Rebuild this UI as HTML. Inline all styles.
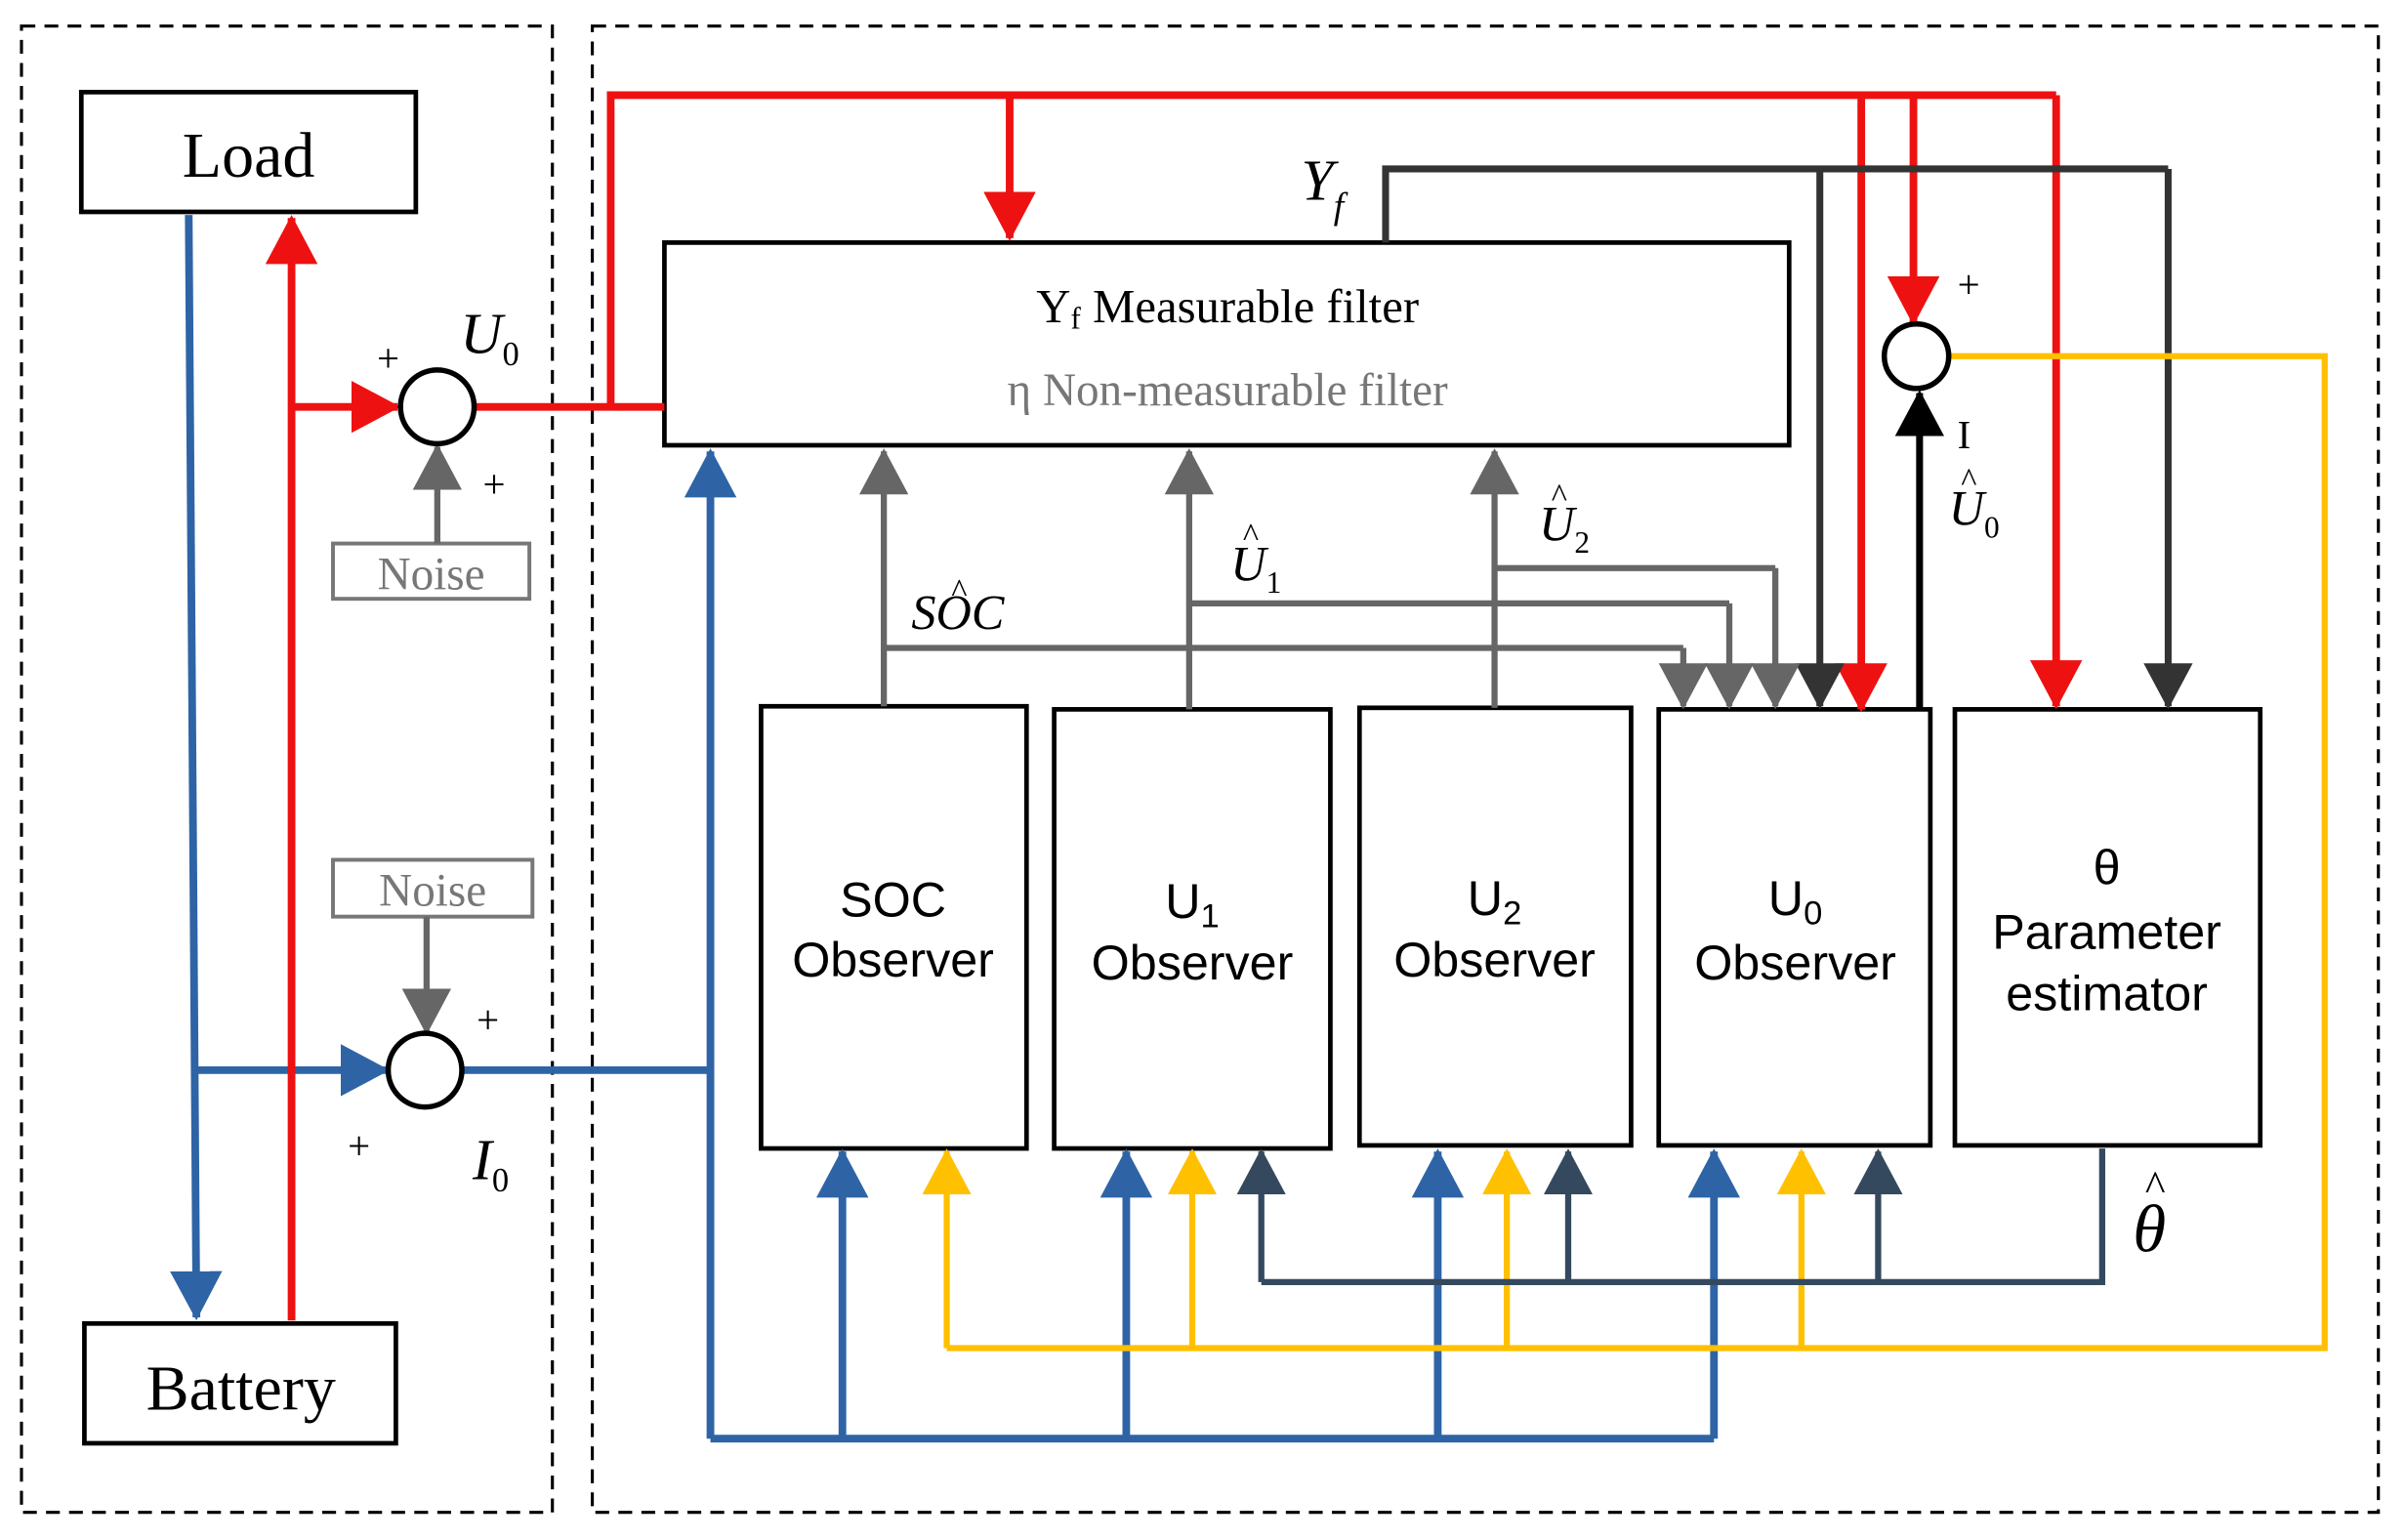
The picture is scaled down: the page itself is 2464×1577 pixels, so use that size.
<!DOCTYPE html>
<html><head><meta charset="utf-8"><style>
html,body{margin:0;padding:0;background:#fff}
svg{display:block}
text{font-family:"Liberation Serif",serif}
.s{font-family:"Liberation Sans",sans-serif}
</style></head><body>
<svg width="2464" height="1577" viewBox="0 0 1568 1003" preserveAspectRatio="none" xmlns="http://www.w3.org/2000/svg">
<defs>
<marker id="ar" markerUnits="userSpaceOnUse" markerWidth="34" markerHeight="34" refX="30" refY="17" orient="auto"><path d="M0,0 L32,17 L0,34 z" fill="#ee1111"/></marker>
<marker id="ab" markerUnits="userSpaceOnUse" markerWidth="34" markerHeight="34" refX="30" refY="17" orient="auto"><path d="M0,0 L32,17 L0,34 z" fill="#2e64a6"/></marker>
<marker id="ag" markerUnits="userSpaceOnUse" markerWidth="32" markerHeight="32" refX="28" refY="16" orient="auto"><path d="M0,0 L30,16 L0,32 z" fill="#666"/></marker>
<marker id="ak" markerUnits="userSpaceOnUse" markerWidth="32" markerHeight="32" refX="28" refY="16" orient="auto"><path d="M0,0 L30,16 L0,32 z" fill="#333"/></marker>
<marker id="ak2" markerUnits="userSpaceOnUse" markerWidth="32" markerHeight="32" refX="28" refY="16" orient="auto"><path d="M0,0 L30,16 L0,32 z" fill="#000"/></marker>
<marker id="ay" markerUnits="userSpaceOnUse" markerWidth="32" markerHeight="32" refX="28" refY="16" orient="auto"><path d="M0,0 L30,16 L0,32 z" fill="#ffc000"/></marker>
<marker id="ad" markerUnits="userSpaceOnUse" markerWidth="32" markerHeight="32" refX="28" refY="16" orient="auto"><path d="M0,0 L30,16 L0,32 z" fill="#34495e"/></marker>
</defs>
<g fill="none" stroke="#000" stroke-width="2" stroke-dasharray="9,6">
<rect x="14" y="17" width="346" height="968"/>
<rect x="386" y="17" width="1164" height="968"/>
</g>
<g fill="#fff" stroke="#000" stroke-width="3">
<rect x="53" y="60" width="218" height="78"/>
<rect x="55" y="862" width="203" height="78"/>
<rect x="433" y="158" width="733" height="132"/>
<rect x="496" y="460" width="173" height="288"/>
<rect x="687" y="462" width="180" height="286"/>
<rect x="886" y="461" width="177" height="285"/>
<rect x="1081" y="462" width="177" height="284"/>
<rect x="1274" y="462" width="199" height="284"/>
</g>
<g fill="#fff" stroke="#777" stroke-width="2.5">
<rect x="217" y="354" width="128" height="36"/>
<rect x="217" y="560" width="130" height="37"/>
</g>
<g fill="none" stroke="#2e64a6" stroke-width="5">
<line x1="123" y1="140" x2="128" y2="858" marker-end="url(#ab)"/>
<line x1="128" y1="697" x2="252" y2="697" marker-end="url(#ab)"/>
<polyline points="301,697 463,697"/>
<line x1="463" y1="937" x2="463" y2="294" marker-end="url(#ab)"/>
<polyline points="463,937 1117,937"/>
<line x1="549" y1="937" x2="549" y2="750" marker-end="url(#ab)"/>
<line x1="734" y1="937" x2="734" y2="750" marker-end="url(#ab)"/>
<line x1="937" y1="937" x2="937" y2="750" marker-end="url(#ab)"/>
<line x1="1117" y1="937" x2="1117" y2="750" marker-end="url(#ab)"/>
</g>
<g fill="none" stroke="#ee1111" stroke-width="5">
<line x1="190" y1="860" x2="190" y2="142" marker-end="url(#ar)"/>
<line x1="190" y1="265" x2="259" y2="265" marker-end="url(#ar)"/>
<polyline points="309,265 433,265"/>
<polyline points="398,265 398,62 1340,62"/>
<line x1="658" y1="62" x2="658" y2="155" marker-end="url(#ar)"/>
<line x1="1213" y1="62" x2="1213" y2="462" marker-end="url(#ar)"/>
<line x1="1247" y1="62" x2="1247" y2="210" marker-end="url(#ar)"/>
<line x1="1340" y1="62" x2="1340" y2="460" marker-end="url(#ar)"/>
</g>
<g fill="none" stroke="#333" stroke-width="4.5">
<polyline points="903,158 903,110 1413,110"/>
<line x1="1413" y1="110" x2="1413" y2="460" marker-end="url(#ak)"/>
<line x1="1186" y1="110" x2="1186" y2="460" marker-end="url(#ak)"/>
</g>
<line x1="1251" y1="462" x2="1251" y2="256" stroke="#000" stroke-width="4.5" marker-end="url(#ak2)"/>
<g fill="none" stroke="#666" stroke-width="4">
<line x1="285" y1="354" x2="285" y2="291" marker-end="url(#ag)"/>
<line x1="278" y1="597" x2="278" y2="672" marker-end="url(#ag)"/>
<line x1="576" y1="460" x2="576" y2="294" marker-end="url(#ag)"/>
<line x1="775" y1="462" x2="775" y2="294" marker-end="url(#ag)"/>
<line x1="974" y1="461" x2="974" y2="294" marker-end="url(#ag)"/>
<polyline points="576,422 1097,422"/>
<line x1="1097" y1="422" x2="1097" y2="460" marker-end="url(#ag)"/>
<polyline points="775,393 1127,393"/>
<line x1="1127" y1="393" x2="1127" y2="460" marker-end="url(#ag)"/>
<polyline points="974,370 1157,370"/>
<line x1="1157" y1="370" x2="1157" y2="460" marker-end="url(#ag)"/>
</g>
<g fill="none" stroke="#ffc000" stroke-width="4">
<polyline points="1270,232 1515,232 1515,878 617,878"/>
<line x1="617" y1="878" x2="617" y2="750" marker-end="url(#ay)"/>
<line x1="777" y1="878" x2="777" y2="750" marker-end="url(#ay)"/>
<line x1="982" y1="878" x2="982" y2="750" marker-end="url(#ay)"/>
<line x1="1174" y1="878" x2="1174" y2="750" marker-end="url(#ay)"/>
</g>
<g fill="none" stroke="#34495e" stroke-width="4">
<polyline points="1370,748 1370,835 822,835"/>
<line x1="822" y1="835" x2="822" y2="750" marker-end="url(#ad)"/>
<line x1="1022" y1="835" x2="1022" y2="750" marker-end="url(#ad)"/>
<line x1="1224" y1="835" x2="1224" y2="750" marker-end="url(#ad)"/>
</g>
<g fill="#fff" stroke="#000" stroke-width="3.5">
<circle cx="285" cy="265" r="24"/>
<circle cx="277" cy="697" r="24"/>
<circle cx="1249" cy="232" r="21"/>
</g>
<g font-size="42" text-anchor="middle" fill="#000">
<text x="162" y="115">Load</text>
<text x="157" y="918">Battery</text>
</g>
<g font-size="30" text-anchor="middle" fill="#777">
<text x="281" y="384">Noise</text>
<text x="282" y="590">Noise</text>
<text x="800" y="264">η Non-measurable filter</text>
</g>
<text x="800" y="210" font-size="31" text-anchor="middle" fill="#000">Y<tspan font-size="20" dy="4">f</tspan><tspan dy="-4"> Measurable filter</tspan></text>
<g font-size="32" text-anchor="middle" fill="#000">
<text class="s" x="582" y="597">SOC</text><text class="s" x="582" y="636">Observer</text>
<text class="s" x="777" y="598">U<tspan font-size="22" dy="6">1</tspan></text><text class="s" x="777" y="638">Observer</text>
<text class="s" x="974" y="596">U<tspan font-size="22" dy="6">2</tspan></text><text class="s" x="974" y="636">Observer</text>
<text class="s" x="1170" y="596">U<tspan font-size="22" dy="6">0</tspan></text><text class="s" x="1170" y="638">Observer</text>
<text class="s" x="1373" y="576">θ</text><text class="s" x="1373" y="618">Parameter</text><text class="s" x="1373" y="658">estimator</text>
</g>
<g font-size="26" fill="#000" text-anchor="middle">
<text x="253" y="242">+</text><text x="322" y="324">+</text>
<text x="318" y="673">+</text><text x="234" y="755">+</text>
<text x="1283" y="194">+</text><text x="1280" y="292">I</text>
</g>
<g font-style="italic" font-size="38" fill="#000">
<text x="300" y="230">U<tspan font-size="22" font-style="normal" dy="8">0</tspan></text>
<text x="308" y="768">I<tspan font-size="22" font-style="normal" dy="8">0</tspan></text>
<text x="848" y="130">Y<tspan font-size="24" dy="12">f</tspan></text>
<text x="1390" y="815" font-size="44">θ</text><text x="1398" y="782" font-size="28" font-style="normal">^</text>
</g>
<g font-style="italic" font-size="32" fill="#000">
<text x="594" y="410">SOC</text><text x="620" y="392" font-size="22" font-style="normal">^</text>
<text x="802" y="378">U<tspan font-size="20" font-style="normal" dy="8">1</tspan></text><text x="810" y="356" font-size="22" font-style="normal">^</text>
<text x="1003" y="352">U<tspan font-size="20" font-style="normal" dy="8">2</tspan></text><text x="1011" y="330" font-size="22" font-style="normal">^</text>
<text x="1270" y="342">U<tspan font-size="20" font-style="normal" dy="8">0</tspan></text><text x="1278" y="320" font-size="22" font-style="normal">^</text>
</g>
</svg>
</body></html>
